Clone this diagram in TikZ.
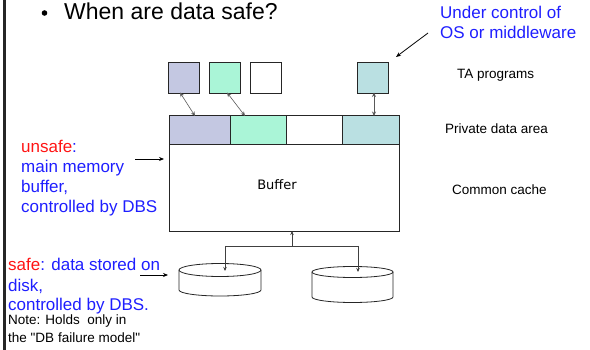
\documentclass[tikz,border=0pt]{standalone}
\usepackage{fontspec}
\setmainfont{Liberation Sans}
\newfontfamily\bufferfont{DejaVu Sans}
\newfontfamily\rawfont{Liberation Sans}[Ligatures=ResetAll]
\usetikzlibrary{arrows.meta,calc}
\definecolor{lav}{RGB}{196,200,226}
\definecolor{mint}{RGB}{170,245,215}
\definecolor{tealbox}{RGB}{186,224,226}
\definecolor{txtblue}{RGB}{30,30,255}
\definecolor{txtred}{RGB}{255,20,20}
\begin{document}
\begin{tikzpicture}[x=1pt,y=-1pt,
  sq/.style={draw=black!85, line width=0.8pt, minimum width=31pt, minimum height=31pt, inner sep=0pt, outer sep=0pt},
  cell/.style={draw=black!85, line width=0.8pt, minimum height=29pt, inner sep=0pt, outer sep=0pt},
  lbl/.style={anchor=base west, inner sep=0pt, font=\fontsize{13.5}{16}\selectfont},
  note/.style={anchor=base west, inner sep=0pt, font=\fontsize{17}{20}\selectfont, text=txtblue},
  small/.style={anchor=base west, inner sep=0pt, font=\rawfont\fontsize{13.5}{16}\selectfont},
  link/.style={line width=0.6pt, black!65, {Stealth[length=4.5pt,width=4pt]}-{Stealth[length=4.5pt,width=4pt]}},
  pointer/.style={line width=0.8pt, -{Stealth[length=5pt,width=4pt]}},
  wire/.style={line width=0.7pt, black!75},
  diskline/.style={line width=0.8pt, black!85}
]
\useasboundingbox (0,0) rectangle (590,350);

% left margin bar
\fill[black!85] (3,0) rectangle (6,350);

% title
\fill (44.5,13) circle (2.8);
\node[anchor=base west, inner sep=0pt, font=\fontsize{23}{28}\selectfont] (title) at (64,20) {When are data safe?};

% TA programs
\node[sq, fill=lav]     (p1) at (184,78) {};
\node[sq, fill=mint]    (p2) at (225,78) {};
\node[sq, fill=white]   (p3) at (266,78) {};
\node[sq, fill=tealbox] (p4) at (372.5,78) {};

% private data area
\node[cell, fill=lav,     minimum width=61pt] (s1) at (199.5,129.5) {};
\node[cell, fill=mint,    minimum width=56pt] (s2) at (258,129.5) {};
\node[cell, fill=white,   minimum width=56pt] (s3) at (314,129.5) {};
\node[cell, fill=tealbox, minimum width=57pt] (s4) at (370.5,129.5) {};

% common buffer
\node[draw=black!85, line width=0.8pt, minimum width=230pt, minimum height=87pt, inner sep=0pt, outer sep=0pt] (buf) at (284,187.5) {};
\node[font=\bufferfont\fontsize{13}{15}\selectfont] (buftxt) at (277,185) {Buffer};

% program <-> private area
\draw[link] ([xshift=-4pt,yshift=1pt]p1.south) -- ([xshift=-4.5pt,yshift=-1pt]s1.north);
\draw[link] ([xshift=2pt,yshift=1pt]p2.south) -- ([xshift=-13pt,yshift=-1pt]s2.north);
\draw[link] ([xshift=1.5pt,yshift=1pt]p4.south) -- ([xshift=3.5pt,yshift=-1pt]s4.north);

% disks
\draw[diskline, fill=white] (179,270) -- (179,290) arc[start angle=180, end angle=0, x radius=41, y radius=6] -- (261,270);
\draw[diskline, fill=white] (220,270) ellipse [x radius=41, y radius=6.5];
\draw[diskline, fill=white] (312,272) -- (312,297) arc[start angle=180, end angle=0, x radius=40.5, y radius=5.5] -- (393,272);
\draw[diskline, fill=white] (352.5,272) ellipse [x radius=40.5, y radius=5.5];
\coordinate (d1) at (225,271);
\coordinate (d2) at (358,272);

% buffer <-> disks
\coordinate (j) at (292,246);
\draw[wire, -{Stealth[length=4pt,width=3.5pt]}] (j) -- (j |- buf.south);
\draw[wire] (d1 |- j) -- (d2 |- j);
\draw[wire, -{Stealth[length=4pt,width=3.5pt]}] (d1 |- j) -- (d1);
\draw[wire, -{Stealth[length=4pt,width=3.5pt]}] (d2 |- j) -- (d2);

% right-hand labels
\node[lbl] (ta)  at (457,79)  {TA programs};
\node[lbl] (pda) at (445,134) {Private data area};
\node[lbl] (cc)  at (452,195) {Common cache};

% OS / middleware note
\node[note] (uc1) at (440,19) {Under control of};
\node[note] (uc2) at (440,39) {OS or middleware};
\coordinate (ucs) at (428,33);
\coordinate (uct) at (396,57);
\draw[pointer] (ucs) -- (uct);

% unsafe note
\node[note, text=txtred] (u1) at (21,153) {unsafe\textcolor{txtblue}{:}};
\node[note] (u2) at (21,173) {main memory};
\node[note] (u3) at (21,193) {buffer,};
\node[note] (u4) at (21,213) {controlled by DBS};
\coordinate (ua) at (135,159);
\coordinate (ub) at (164,159);
\draw[pointer] (ua) -- (ub);

% safe note
\node[note] (sf1) at (8,271) {\textcolor{txtred}{safe}: data stored on};
\node[note] (sf2) at (8,291) {disk,};
\node[note] (sf3) at (8,311) {controlled by DBS.};
\node[small] (sf4) at (8,325) {Note: Holds~ only in};
\node[small] (sf5) at (8,343) {the "DB failure model"};
\coordinate (sa) at (140,275);
\coordinate (sb) at (168,275);
\draw[pointer] (sa) -- (sb);
\end{tikzpicture}
\end{document}
